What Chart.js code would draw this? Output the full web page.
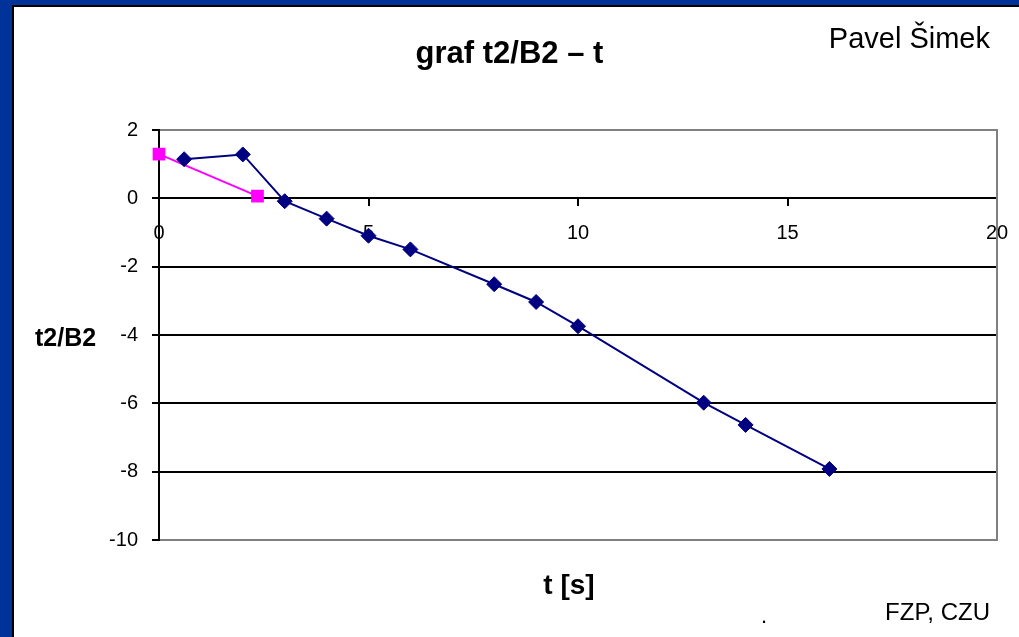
<!DOCTYPE html>
<html lang="cs">
<head>
    <meta charset="UTF-8">
    <title>graf t2/B2 – t</title>
    <script src="https://cdn.jsdelivr.net/npm/chart.js"></script>
    <style>
        body {
            margin: 0;
            width: 1019px;
            height: 637px;
            position: relative;
            overflow: hidden;
            background-color: #003399;
            font-family: "Liberation Sans", Arial, sans-serif;
        }

        /* bílá plocha snímku s černou linkou u modrého okraje */
        .plocha {
            position: absolute;
            left: 12px;
            top: 5px;
            right: 0;
            bottom: 0;
            background-color: #fff;
            border-left: 2px solid #000;
            border-top: 2px solid #000;
        }

        canvas {
            position: absolute;
            left: 0;
            top: 0;
        }

        .popis {
            position: absolute;
            color: #000;
            white-space: nowrap;
            line-height: 1;
        }
    </style>
</head>
<body>
    <div class="plocha"></div>
    <canvas id="graf" width="1019" height="637"></canvas>

    <div class="popis" style="right: 29px; top: 24px; font-size: 29px;">Pavel Šimek</div>
    <div class="popis" style="left: 35px; top: 325px; font-size: 25px; font-weight: bold;">t2/B2</div>
    <div class="popis" style="left: 569px; top: 571px; font-size: 28px; font-weight: bold; transform: translateX(-50%);">t [s]</div>
    <div class="popis" style="left: 761px; top: 605px; font-size: 22px;">.</div>
    <div class="popis" style="right: 29px; top: 600px; font-size: 24px;">FZP, CZU</div>

    <script>
        // naměřené hodnoty
        const casModra = [0.6, 2, 3, 4, 5, 6, 8, 9, 10, 13, 14, 16];
        const hodnotyModra = [1.15, 1.29, -0.08, -0.59, -1.09, -1.49, -2.51, -3.03, -3.74, -5.98, -6.63, -7.92];

        const casRuzova = [0, 2.35];
        const hodnotyRuzova = [1.3, 0.07];

        const popiskyX = [0, 5, 10, 15, 20];
        const popiskyY = [2, 0, -2, -4, -6, -8, -10];

        const body = (xs, ys) => xs.map((x, i) => ({ x: x, y: ys[i] }));

        Chart.defaults.font.family = '"Liberation Sans", Arial, sans-serif';
        Chart.defaults.color = '#000';

        const ctx = document.getElementById('graf').getContext('2d');
        new Chart(ctx, {
            type: 'scatter',
            data: {
                datasets: [
                    {
                        label: 't2/B2',
                        data: body(casModra, hodnotyModra),
                        showLine: true,
                        borderColor: '#000080',
                        backgroundColor: '#000080',
                        borderWidth: 2,
                        pointStyle: 'rectRot',
                        pointRadius: 7.5,
                        pointBorderWidth: 1,
                        clip: false,
                    },
                    {
                        label: 'přímka',
                        data: body(casRuzova, hodnotyRuzova),
                        showLine: true,
                        borderColor: '#FF00FF',
                        backgroundColor: '#FF00FF',
                        borderWidth: 2,
                        pointStyle: 'rect',
                        pointRadius: 9,
                        pointBorderWidth: 0,
                        clip: false,
                    },
                ],
            },
            options: {
                responsive: false,
                animation: false,
                layout: {
                    autoPadding: false,
                    padding: { left: 0, right: 0, top: 0, bottom: 97 }
                },
                plugins: {
                    legend: { display: false },
                    tooltip: { enabled: false },
                    title: {
                        display: true,
                        text: 'graf t2/B2 – t',
                        color: '#000',
                        font: { size: 31, weight: 'bold' },
                        padding: { top: 36, bottom: 57 },
                    },
                },
                scales: {
                    x: {
                        type: 'linear',
                        min: 0,
                        max: 20,
                        position: { y: 0 },
                        afterBuildTicks: (s) => { s.ticks = popiskyX.map(v => ({ value: v })); },
                        afterFit: (s) => { s.paddingLeft = 0; s.paddingRight = 0; },
                        border: { color: '#000', width: 2 },
                        grid: {
                            drawOnChartArea: false,
                            tickLength: 7,
                            tickColor: '#000',
                            lineWidth: 2,
                        },
                        ticks: {
                            color: '#000',
                            font: { size: 20 },
                            padding: 16,
                            maxRotation: 0,
                        },
                    },
                    y: {
                        min: -10,
                        max: 2,
                        afterBuildTicks: (s) => { s.ticks = popiskyY.map(v => ({ value: v })); },
                        afterFit: (s) => { s.width = 159; },
                        border: { color: '#000', width: 2 },
                        grid: {
                            color: (c) => (c.tick && (c.tick.value === 2 || c.tick.value === -10)) ? '#808080' : '#000',
                            lineWidth: 2,
                            tickLength: 7,
                            tickColor: '#000',
                        },
                        ticks: {
                            color: '#000',
                            font: { size: 20 },
                            padding: 14,
                        },
                    },
                    // pravý šedý okraj plochy grafu
                    y2: {
                        position: 'right',
                        afterFit: (s) => { s.width = 22; },
                        border: { color: '#808080', width: 2 },
                        grid: { drawOnChartArea: false, drawTicks: false },
                        ticks: { display: false },
                    },
                },
            },
        });
    </script>
</body>
</html>
